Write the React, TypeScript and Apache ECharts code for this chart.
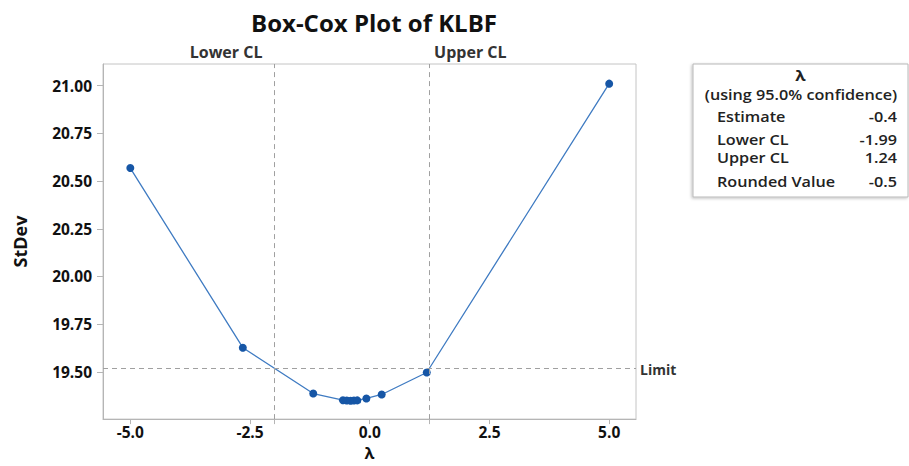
import React, { useEffect, useRef } from "react";
import * as echarts from "echarts";

const lambdas = [-5.0, -2.65, -1.18, -0.56, -0.48, -0.4, -0.33, -0.26, -0.07, 0.25, 1.19, 5.0];
const stdevs = [20.568, 19.627, 19.387, 19.352, 19.35, 19.349, 19.35, 19.351, 19.361, 19.382, 19.497, 21.01];
const xTickValues = [-5, -2.5, 0, 2.5, 5];
const yTickValues = [19.5, 19.75, 20, 20.25, 20.5, 20.75, 21];
const lowerCL = -1.99;
const upperCL = 1.24;
const limitValue = 19.515;
const legendTitle = "λ";
const legendSubtitle = "(using 95.0% confidence)";
const legendLabels = ["Estimate", "Lower CL", "Upper CL", "Rounded Value"];
const legendValues = ["-0.4", "-1.99", "1.24", "-0.5"];

const BOLD_FONT = "'Open Sans', 'Noto Sans', sans-serif";
const UI_FONT = "'Open Sans', 'Noto Sans', sans-serif";

export default function App() {
  const ref = useRef<HTMLDivElement>(null);
  useEffect(() => {
    if (!ref.current) return;
    document.body.style.margin = "0";
    const chart = echarts.init(ref.current, undefined, { renderer: "svg" });
    const points = lambdas.map((l, i) => [l, stdevs[i]]);
    chart.setOption({
      animation: false,
      backgroundColor: "#ffffff",
      title: {
        text: "Box-Cox Plot of KLBF",
        left: 369,
        textAlign: "center",
        top: 5,
        textStyle: { fontFamily: BOLD_FONT, fontWeight: "bold", fontSize: 24, color: "#111" },
      },
      grid: {
        left: 103,
        right: 273,
        top: 64,
        bottom: 40,
        show: true,
        borderColor: "#c4c4c4",
        borderWidth: 1,
        backgroundColor: "#ffffff",
      },
      xAxis: {
        type: "value",
        min: -5.57,
        max: 5.56,
        name: "λ",
        nameLocation: "middle",
        nameGap: 22,
        nameTextStyle: { fontFamily: UI_FONT, fontWeight: "bold", fontSize: 16, color: "#111", verticalAlign: "top" },
        axisLine: { show: true, onZero: false, lineStyle: { color: "#b5b5b5" } },
        axisTick: { show: true, length: 5, lineStyle: { color: "#b5b5b5" }, customValues: [...xTickValues, lowerCL, upperCL] },
        axisLabel: {
          customValues: xTickValues,
          formatter: (v: number) => v.toFixed(1),
          margin: 5,
          fontFamily: BOLD_FONT,
          fontWeight: "bold",
          fontSize: 15.5,
          color: "#111",
        },
        splitLine: { show: false },
      },
      yAxis: {
        type: "value",
        min: 19.253,
        max: 21.113,
        name: "StDev",
        nameLocation: "middle",
        nameGap: 74,
        nameRotate: 90,
        nameTextStyle: { fontFamily: BOLD_FONT, fontWeight: "bold", fontSize: 18, color: "#111" },
        axisLine: { show: true, onZero: false, lineStyle: { color: "#b5b5b5" } },
        axisTick: { show: true, length: 6, lineStyle: { color: "#b5b5b5" }, customValues: yTickValues },
        axisLabel: {
          customValues: yTickValues,
          formatter: (v: number) => v.toFixed(2),
          margin: 11,
          fontFamily: BOLD_FONT,
          fontWeight: "bold",
          fontSize: 15.5,
          color: "#111",
        },
        splitLine: { show: false },
      },
      series: [
        {
          type: "line",
          data: points,
          symbol: "circle",
          symbolSize: 8,
          itemStyle: { color: "#1656a6" },
          lineStyle: { color: "#3f7bc2", width: 1.3 },
          markLine: {
            silent: true,
            symbol: ["none", "none"],
            label: { show: false },
            lineStyle: { type: [5, 4], color: "#a0a0a0", width: 1 },
            data: [{ xAxis: lowerCL }, { xAxis: upperCL }, { yAxis: limitValue }],
          },
        },
      ],
    });

    const lowerPx = chart.convertToPixel({ gridIndex: 0 }, [lowerCL, 21])[0];
    const upperPx = chart.convertToPixel({ gridIndex: 0 }, [upperCL, 21])[0];
    const limitPx = chart.convertToPixel({ gridIndex: 0 }, [5.56, limitValue]);

    const boxX = 693, boxY = 64, boxW = 215, boxH = 133;
    const rowYs = [117, 139.5, 157.5, 182];
    const legendFont = 13.5;
    const stretch = 1.2;
    const legendTexts: any[] = [];
    legendLabels.forEach((lab, i) => {
      legendTexts.push({
        type: "text",
        x: boxX + 24,
        y: rowYs[i],
        scaleX: stretch,
        style: { text: lab, fontFamily: UI_FONT, fontWeight: 600, fontSize: legendFont, fill: "#222", verticalAlign: "middle", align: "left" },
      });
      legendTexts.push({
        type: "text",
        x: boxX + 204,
        y: rowYs[i],
        scaleX: stretch,
        style: { text: legendValues[i], fontFamily: UI_FONT, fontWeight: 600, fontSize: legendFont, fill: "#222", verticalAlign: "middle", align: "right" },
      });
    });

    chart.setOption({
      graphic: [
        {
          type: "text",
          x: lowerPx - 12,
          y: 52,
          style: { text: "Lower CL", fontFamily: BOLD_FONT, fontWeight: "bold", fontSize: 16, fill: "#333", align: "right", verticalAlign: "middle" },
        },
        {
          type: "text",
          x: upperPx + 5,
          y: 52,
          style: { text: "Upper CL", fontFamily: BOLD_FONT, fontWeight: "bold", fontSize: 16, fill: "#333", align: "left", verticalAlign: "middle" },
        },
        {
          type: "text",
          x: limitPx[0] + 4,
          y: limitPx[1],
          style: { text: "Limit", fontFamily: BOLD_FONT, fontWeight: "bold", fontSize: 14, fill: "#333", align: "left", verticalAlign: "middle" },
        },
        {
          type: "rect",
          shape: { x: boxX, y: boxY, width: boxW, height: boxH },
          style: { fill: "#ffffff", stroke: "#b8b8b8", lineWidth: 1, shadowBlur: 3, shadowColor: "rgba(0,0,0,0.25)", shadowOffsetX: -1, shadowOffsetY: 1 },
        },
        {
          type: "text",
          x: boxX + boxW / 2,
          y: 76,
          scaleX: stretch,
          style: { text: legendTitle, fontFamily: UI_FONT, fontWeight: 700, fontSize: 14, fill: "#222", align: "center", verticalAlign: "middle" },
        },
        {
          type: "text",
          x: boxX + boxW / 2 + 0.5,
          y: 95,
          scaleX: stretch,
          style: { text: legendSubtitle, fontFamily: UI_FONT, fontWeight: 600, fontSize: legendFont, fill: "#222", align: "center", verticalAlign: "middle" },
        },
        ...legendTexts,
      ],
    });

    return () => chart.dispose();
  }, []);
  return <div ref={ref} style={{ width: 909, height: 466 }} />;
}
